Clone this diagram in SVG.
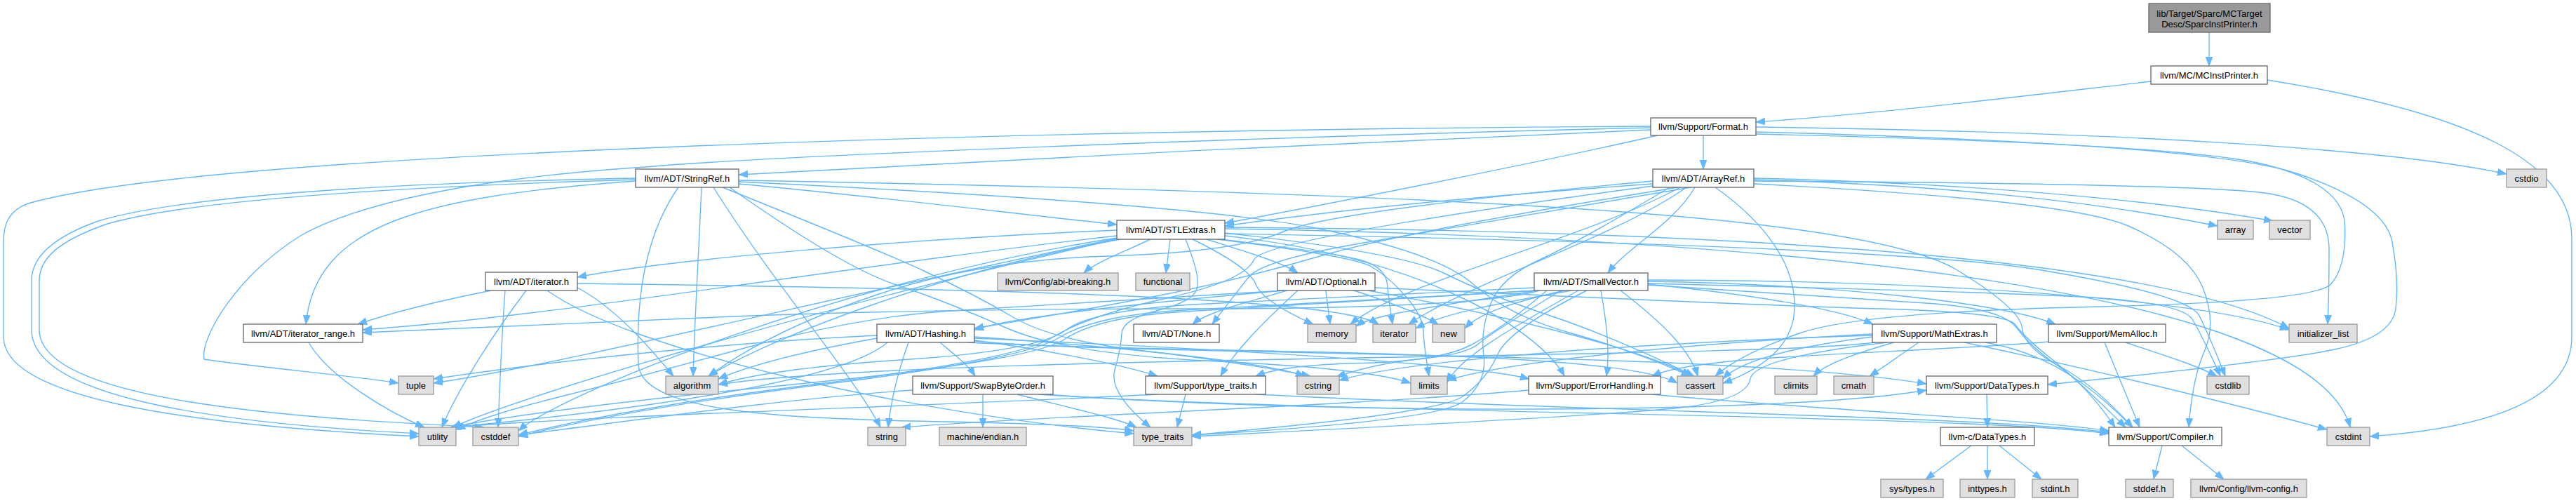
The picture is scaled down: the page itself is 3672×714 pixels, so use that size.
<svg xmlns="http://www.w3.org/2000/svg" width="3672" height="714" viewBox="0 0 3672 714">
<style>
.n rect{fill:#ffffff;stroke:#666666;stroke-width:1.3}
.s rect{fill:#e0e0e0;stroke:#999999;stroke-width:1.3}
.r rect{fill:#999999;stroke:#666666;stroke-width:1.3}
text{font-family:"Liberation Sans",Arial,sans-serif;font-size:13px;fill:#000;text-anchor:middle}
#edges path{fill:none;stroke:#63b8ff;stroke-width:1.4;marker-end:url(#ah)}
</style>
<defs>
<marker id="ah" markerUnits="userSpaceOnUse" markerWidth="14" markerHeight="11" refX="13" refY="5" orient="auto">
<path d="M0,0 L13,5 L0,10 z" fill="#63b8ff" stroke="#63b8ff" stroke-width="0.8"/>
</marker>
</defs>
<rect width="3672" height="714" fill="#ffffff"/>
<g id="edges">
<path d="M3149,46 L3149,94"/>
<path d="M3066,116 C2900,135 2700,160 2503,174"/>
<path d="M3232,114 C3520,160 3666,230 3666,340 L3666,480 C3666,580 3520,612 3378,622"/>
<path d="M2428,193 L2428,241"/>
<path d="M2363,193 C2200,230 1900,290 1746,318"/>
<path d="M2353,185 C2000,200 1400,228 1053,249"/>
<path d="M2503,188 Q3150,205 3275,247.5 Q3400,290 3410,345 Q3420,400 3415,440 Q3410,480 3330,497.5 Q3250,515 2919,548"/>
<path d="M2503,191 Q3100,205 3220,232.5 Q3340,260 3342.5,320 Q3345,380 3322.5,405 Q3300,430 2975,437.5 Q2650,445 2565,475 Q2480,505 2445,536"/>
<path d="M2503,181 C3000,188 3400,210 3573,248"/>
<path d="M2353,182 C1800,195 1100,222 920,238 C700,252 520,285 430,335 C340,390 285,480 291,512 C380,525 500,535 568,546"/>
<path d="M2353,180 C1500,185 300,215 40,290 C12,300 5,320 5,345 L5,480 C5,565 250,605 597,622"/>
<path d="M2392,267 Q2000,330 1880,365.5 Q1760,401 1630,425.5 Q1500,450 1389,468"/>
<path d="M2410,267 Q2100,320 1950,345 Q1800,370 1780,395 Q1760,420 1728,462"/>
<path d="M2416,267 C2385,320 2320,352 2292,389"/>
<path d="M2356,262 C2100,280 1900,300 1746,322"/>
<path d="M2500,262 Q2950,285 3035,322.5 Q3120,360 3140,410 Q3160,460 3142.5,500 Q3125,540 3120,609"/>
<path d="M2356,258 Q1900,300 1830,330 Q1760,360 1580,365 Q1400,370 1250,420 Q1100,470 1010,536"/>
<path d="M2500,256 C2800,265 3000,290 3161,322"/>
<path d="M2445,267 C2520,320 2560,380 2558,440 C2556,500 2500,530 2456,546"/>
<path d="M2356,265 Q1800,340 1787.5,370 Q1775,400 1662.5,425 Q1550,450 1500,481 Q1450,512 1175,546 Q900,580 739,620"/>
<path d="M2500,258 Q3150,262 3235,276 Q3320,290 3320,355 Q3320,420 3318,462"/>
<path d="M2404,267 C2300,340 2100,400 2008,462"/>
<path d="M2395,267 C2250,345 2000,400 1925,462"/>
<path d="M2380,267 Q2250,345 2195,370 Q2140,395 2125,432.5 Q2110,470 2115,507.5 Q2120,545 2085,572.5 Q2050,600 1699,620"/>
<path d="M2500,254 C2850,262 3100,290 3240,315"/>
<path d="M1053,262 C1250,280 1450,305 1592,320"/>
<path d="M906,258 C600,280 450,320 436,462"/>
<path d="M1053,257 Q1900,272 2300,301 Q2700,330 2790,385 Q2880,440 2882.5,467.5 Q2885,495 2935,521.5 Q2985,548 3040,609"/>
<path d="M1000,267 C995,380 990,460 988,536"/>
<path d="M1053,259 Q1700,290 1875,325 Q2050,360 2100,405 Q2150,450 2240,475 Q2330,500 2410,536"/>
<path d="M906,256 C500,268 250,290 150,320 C80,345 56,370 56,400 L56,470 C56,570 400,595 690,609"/>
<path d="M1030,267 Q1250,355 1320,387.5 Q1390,420 1445,452.5 Q1500,485 1630,500 Q1760,515 1868,536"/>
<path d="M1040,267 Q1200,380 1275,405 Q1350,430 1435,467.5 Q1520,505 1735,515 Q1950,525 2011,546"/>
<path d="M1017,267 C1100,400 1220,540 1255,609"/>
<path d="M967,267 C930,320 905,400 910,520 C915,585 1100,595 1300,600 C1450,603 1560,606 1616,614"/>
<path d="M906,254 C480,262 240,285 140,315 C70,340 45,370 45,400 L45,470 C45,565 300,603 597,618"/>
<path d="M1720,341 C1780,360 1830,375 1850,389"/>
<path d="M1592,328 C1300,340 950,370 823,395"/>
<path d="M1592,336 C1200,380 800,450 517,470"/>
<path d="M1640,341 C1600,360 1560,375 1545,389"/>
<path d="M1746,336 C2050,370 2200,480 2230,536"/>
<path d="M1597,341 C1350,385 1100,480 1010,536"/>
<path d="M1746,332 Q2000,360 2060,390 Q2120,420 2210,450 Q2300,480 2415,536"/>
<path d="M1592,339 C1200,400 800,560 739,614"/>
<path d="M1746,326 C2600,340 3300,420 3350,609"/>
<path d="M1746,333 Q2700,350 2910,385 Q3120,420 3135,450 Q3150,480 3172,536"/>
<path d="M1668,341 L1662,389"/>
<path d="M1746,324 C2600,330 3100,380 3263,468"/>
<path d="M1740,341 Q1900,360 1937.5,370 Q1975,380 1977.5,405 Q1980,430 1985,462"/>
<path d="M1735,341 Q1930,365 1955,380 Q1980,395 2004,422.5 Q2028,450 2029,472.5 Q2030,495 2037,536"/>
<path d="M1700,341 Q1780,380 1790,405 Q1800,430 1872,462"/>
<path d="M1592,340 C1200,420 800,520 618,546"/>
<path d="M1690,341 Q1712,395 1706,412.5 Q1700,430 1650,442.5 Q1600,455 1599,475 Q1598,495 1589,527.5 Q1580,560 1640,609"/>
<path d="M1592,341 C1200,430 750,560 645,609"/>
<path d="M1830,414 C1650,430 1450,450 1389,470"/>
<path d="M1835,414 C1780,430 1720,445 1700,462"/>
<path d="M1960,410 Q2500,435 2680,440 Q2860,445 2872.5,462.5 Q2885,480 2922.5,510 Q2960,540 3030,609"/>
<path d="M1850,414 C1800,460 1760,500 1740,536"/>
<path d="M1950,414 C2150,450 2350,500 2410,536"/>
<path d="M1890,414 L1896,462"/>
<path d="M1930,414 C1980,430 2030,450 2050,462"/>
<path d="M1830,414 Q1500,435 1365,442.5 Q1230,450 1065,495 Q900,540 800,565 Q700,590 650,612"/>
<path d="M2195,414 Q2100,440 1700,440 Q1300,440 1000,453 Q700,466 517,474"/>
<path d="M2349,406 Q2650,425 2752.5,432.5 Q2855,440 2875,467.5 Q2895,495 2935,522.5 Q2975,550 3015,609"/>
<path d="M2282,414 C2290,460 2295,500 2290,536"/>
<path d="M2349,405 C2500,420 2620,440 2670,462"/>
<path d="M2349,401 C2600,405 2850,430 2930,462"/>
<path d="M2205,414 Q2140,470 2095,492.5 Q2050,515 1940,517.5 Q1830,520 1790,536"/>
<path d="M2187,410 Q1900,425 1730,432.5 Q1560,440 1520,470 Q1480,500 1290,512.5 Q1100,525 1024,548"/>
<path d="M2310,414 C2370,460 2410,500 2420,536"/>
<path d="M2190,414 Q1800,435 1680,442.5 Q1560,450 1510,481 Q1460,512 1180,547 Q900,582 739,622"/>
<path d="M2349,404 Q2800,415 2955,422.5 Q3110,430 3125,455 Q3140,480 3165,536"/>
<path d="M2225,414 Q2125,475 2107.5,490 Q2090,505 2025,511.5 Q1960,518 1905,537"/>
<path d="M2349,399 C2800,400 3150,430 3263,470"/>
<path d="M2240,414 C2150,430 2060,445 2018,468"/>
<path d="M2250,414 C2150,470 2080,510 2063,545"/>
<path d="M2190,414 C2100,430 1960,445 1933,465"/>
<path d="M2230,414 C2160,430 2110,445 2088,468"/>
<path d="M2262,414 Q2150,470 2135,505 Q2120,540 2085,565 Q2050,590 1699,620"/>
<path d="M2190,414 Q1800,437 1682.5,444.5 Q1565,452 1517.5,483.5 Q1470,515 1125,548.5 Q780,582 642,609"/>
<path d="M700,414 C620,430 560,445 510,462"/>
<path d="M823,410 C880,440 930,500 960,536"/>
<path d="M720,414 C715,480 712,560 710,609"/>
<path d="M823,404 C1300,410 1900,420 1965,462"/>
<path d="M780,414 C900,500 1300,590 1616,618"/>
<path d="M750,414 C700,480 650,560 630,609"/>
<path d="M440,488 C470,540 560,590 605,609"/>
<path d="M1389,486 C1600,508 2450,498 2746,547"/>
<path d="M1389,482 C1800,500 2100,520 2180,540"/>
<path d="M1340,488 C1360,505 1380,520 1390,536"/>
<path d="M1389,485 C1500,500 1600,520 1650,536"/>
<path d="M1250,482 C1150,500 1070,520 1024,540"/>
<path d="M1380,488 C1700,505 2300,495 2391,546"/>
<path d="M1389,480 C1600,495 1800,515 1860,536"/>
<path d="M1295,488 C1280,530 1270,570 1266,609"/>
<path d="M1250,478 C1000,490 750,520 618,540"/>
<path d="M1265,488 C1200,545 900,585 642,609"/>
<path d="M1480,562 C1900,590 2800,590 3006,618"/>
<path d="M1490,562 C1900,592 2550,590 2746,556"/>
<path d="M1301,556 C1100,570 900,600 739,620"/>
<path d="M1401,562 L1401,609"/>
<path d="M1450,562 C1520,580 1590,595 1620,609"/>
<path d="M1790,562 C2300,588 2800,592 3006,616"/>
<path d="M1690,562 L1678,609"/>
<path d="M1650,562 C1300,580 850,592 645,609"/>
<path d="M2830,488 C2930,505 2990,560 3040,609"/>
<path d="M2672,488 C2500,512 1300,505 1024,548"/>
<path d="M2669,480 C2550,495 2480,515 2456,540"/>
<path d="M2700,488 C2640,505 2600,520 2585,536"/>
<path d="M2735,488 C2710,505 2690,520 2665,536"/>
<path d="M2800,488 C3000,530 3200,580 3317,612"/>
<path d="M2669,478 C2300,490 2000,515 1909,542"/>
<path d="M2669,476 C2400,490 2150,515 2063,542"/>
<path d="M2690,488 Q2500,510 2495,540 Q2490,570 2395,581 Q2300,592 1699,622"/>
<path d="M3000,488 L3050,609"/>
<path d="M2922,487 C2700,505 2420,505 2355,536"/>
<path d="M3030,488 C3080,505 3130,520 3160,536"/>
<path d="M2355,562 C2600,585 2900,598 3006,614"/>
<path d="M2179,556 C1900,580 1500,592 1285,609"/>
<path d="M2832,562 L2833,609"/>
<path d="M2810,635 L2745,683"/>
<path d="M2833,635 L2833,683"/>
<path d="M2850,635 L2910,683"/>
<path d="M3082,635 L3070,683"/>
<path d="M3110,635 L3170,683"/>
</g>
<g id="root" class="r"><rect x="3063" y="5" width="173" height="41"/><text x="3149.5" y="23.5">lib/Target/Sparc/MCTarget</text><text x="3149.5" y="38.5">Desc/SparcInstPrinter.h</text></g>
<g id="mcinst" class="n"><rect x="3066" y="94" width="166" height="26"/><text x="3149" y="111.5">llvm/MC/MCInstPrinter.h</text></g>
<g id="format" class="n"><rect x="2353" y="168" width="150" height="25"/><text x="2428" y="185">llvm/Support/Format.h</text></g>
<g id="stringref" class="n"><rect x="906" y="241" width="147" height="26"/><text x="979.5" y="258.5">llvm/ADT/StringRef.h</text></g>
<g id="arrayref" class="n"><rect x="2356" y="241" width="144" height="26"/><text x="2428" y="258.5">llvm/ADT/ArrayRef.h</text></g>
<g id="cstdio" class="s"><rect x="3573" y="241" width="57" height="26"/><text x="3601.5" y="258.5">cstdio</text></g>
<g id="stlextras" class="n"><rect x="1592" y="314" width="154" height="27"/><text x="1669" y="332">llvm/ADT/STLExtras.h</text></g>
<g id="array" class="s"><rect x="3161" y="314" width="51" height="27"/><text x="3186.5" y="332">array</text></g>
<g id="vector" class="s"><rect x="3235" y="314" width="58" height="27"/><text x="3264" y="332">vector</text></g>
<g id="iteratorh" class="n"><rect x="692" y="388" width="131" height="26"/><text x="757.5" y="405.5">llvm/ADT/iterator.h</text></g>
<g id="abibreaking" class="s"><rect x="1422" y="389" width="172" height="25"/><text x="1508" y="406">llvm/Config/abi-breaking.h</text></g>
<g id="functional" class="s"><rect x="1619" y="389" width="77" height="25"/><text x="1657.5" y="406">functional</text></g>
<g id="optional" class="n"><rect x="1821" y="389" width="139" height="25"/><text x="1890.5" y="406">llvm/ADT/Optional.h</text></g>
<g id="smallvector" class="n"><rect x="2187" y="389" width="162" height="25"/><text x="2268" y="406">llvm/ADT/SmallVector.h</text></g>
<g id="iterrange" class="n"><rect x="347" y="462" width="170" height="26"/><text x="432" y="479.5">llvm/ADT/iterator_range.h</text></g>
<g id="hashing" class="n"><rect x="1250" y="462" width="139" height="26"/><text x="1319.5" y="479.5">llvm/ADT/Hashing.h</text></g>
<g id="none" class="n"><rect x="1616" y="462" width="122" height="26"/><text x="1677" y="479.5">llvm/ADT/None.h</text></g>
<g id="memory" class="s"><rect x="1864" y="462" width="69" height="26"/><text x="1898.5" y="479.5">memory</text></g>
<g id="iterator" class="s"><rect x="1957" y="462" width="61" height="26"/><text x="1987.5" y="479.5">iterator</text></g>
<g id="new" class="s"><rect x="2042" y="462" width="46" height="26"/><text x="2065" y="479.5">new</text></g>
<g id="mathextras" class="n"><rect x="2669" y="462" width="177" height="26"/><text x="2757.5" y="479.5">llvm/Support/MathExtras.h</text></g>
<g id="memalloc" class="n"><rect x="2920" y="462" width="167" height="26"/><text x="3003.5" y="479.5">llvm/Support/MemAlloc.h</text></g>
<g id="initlist" class="s"><rect x="3263" y="462" width="97" height="26"/><text x="3311.5" y="479.5">initializer_list</text></g>
<g id="tuple" class="s"><rect x="568" y="536" width="50" height="26"/><text x="593" y="553.5">tuple</text></g>
<g id="algorithm" class="s"><rect x="949" y="536" width="75" height="26"/><text x="986.5" y="553.5">algorithm</text></g>
<g id="swapbyte" class="n"><rect x="1301" y="536" width="200" height="26"/><text x="1401" y="553.5">llvm/Support/SwapByteOrder.h</text></g>
<g id="typetraitsh" class="n"><rect x="1633" y="536" width="171" height="26"/><text x="1718.5" y="553.5">llvm/Support/type_traits.h</text></g>
<g id="cstring" class="s"><rect x="1849" y="536" width="60" height="26"/><text x="1879" y="553.5">cstring</text></g>
<g id="limits" class="s"><rect x="2011" y="536" width="52" height="26"/><text x="2037" y="553.5">limits</text></g>
<g id="errorhandling" class="n"><rect x="2179" y="536" width="188" height="26"/><text x="2273" y="553.5">llvm/Support/ErrorHandling.h</text></g>
<g id="cassert" class="s"><rect x="2391" y="536" width="65" height="26"/><text x="2423.5" y="553.5">cassert</text></g>
<g id="climits" class="s"><rect x="2530" y="536" width="60" height="26"/><text x="2560" y="553.5">climits</text></g>
<g id="cmath" class="s"><rect x="2614" y="536" width="57" height="26"/><text x="2642.5" y="553.5">cmath</text></g>
<g id="datatypes" class="n"><rect x="2746" y="536" width="173" height="26"/><text x="2832.5" y="553.5">llvm/Support/DataTypes.h</text></g>
<g id="cstdlib" class="s"><rect x="3146" y="536" width="60" height="26"/><text x="3176" y="553.5">cstdlib</text></g>
<g id="utility" class="s"><rect x="597" y="609" width="53" height="26"/><text x="623.5" y="626.5">utility</text></g>
<g id="cstddef" class="s"><rect x="674" y="609" width="65" height="26"/><text x="706.5" y="626.5">cstddef</text></g>
<g id="string" class="s"><rect x="1237" y="609" width="54" height="26"/><text x="1264" y="626.5">string</text></g>
<g id="endian" class="s"><rect x="1339" y="609" width="124" height="26"/><text x="1401" y="626.5">machine/endian.h</text></g>
<g id="typetraits" class="s"><rect x="1616" y="609" width="83" height="26"/><text x="1657.5" y="626.5">type_traits</text></g>
<g id="cdatatypes" class="n"><rect x="2766" y="609" width="134" height="26"/><text x="2833" y="626.5">llvm-c/DataTypes.h</text></g>
<g id="compiler" class="n"><rect x="3006" y="609" width="161" height="26"/><text x="3086.5" y="626.5">llvm/Support/Compiler.h</text></g>
<g id="cstdint" class="s"><rect x="3317" y="609" width="61" height="26"/><text x="3347.5" y="626.5">cstdint</text></g>
<g id="systypes" class="s"><rect x="2681" y="683" width="89" height="26"/><text x="2725.5" y="700.5">sys/types.h</text></g>
<g id="inttypes" class="s"><rect x="2794" y="683" width="78" height="26"/><text x="2833" y="700.5">inttypes.h</text></g>
<g id="stdint" class="s"><rect x="2897" y="683" width="65" height="26"/><text x="2929.5" y="700.5">stdint.h</text></g>
<g id="stddef" class="s"><rect x="3030" y="683" width="68" height="26"/><text x="3064" y="700.5">stddef.h</text></g>
<g id="llvmconfig" class="s"><rect x="3123" y="683" width="165" height="26"/><text x="3205.5" y="700.5">llvm/Config/llvm-config.h</text></g>
</svg>
